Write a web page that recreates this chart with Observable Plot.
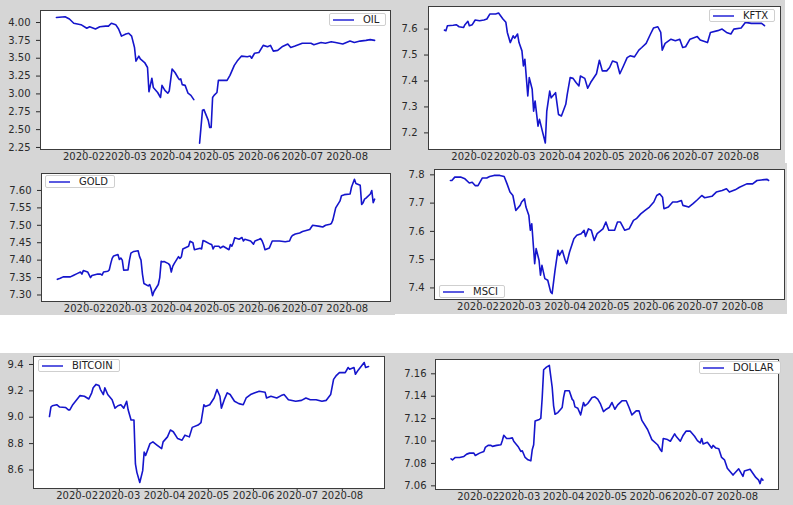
<!DOCTYPE html>
<html><head><meta charset="utf-8">
<script src="https://cdn.jsdelivr.net/npm/d3@7"></script>
<script src="https://cdn.jsdelivr.net/npm/@observablehq/plot@0.6"></script>
<style>
html,body{margin:0;padding:0;background:#fff;}
#root{position:relative;width:793px;height:505px;overflow:hidden;font-family:"DejaVu Sans",sans-serif;}
.panel{position:absolute;}
.panel svg{display:block;}
.leg{position:absolute;height:13px;box-sizing:border-box;background:#fff;border:1px solid #cfcfcf;border-radius:2px;display:flex;align-items:center;padding:0 6px 0 3px;font:10px "DejaVu Sans",sans-serif;color:#222;white-space:nowrap;}
.sw{display:inline-block;width:21px;height:2px;background:#5a5ae0;margin-right:9px;}
</style></head><body><div id="root"></div>
<script>
// ---------- data ----------
const seriesNames = ["OIL", "KFTX", "GOLD", "MSCI", "BITCOIN", "DOLLAR"];
const monthTicks = ["2020-02-01","2020-03-01","2020-04-01","2020-05-01","2020-06-01","2020-07-01","2020-08-01"];

const oil = [["2020-01-13",4.07],["2020-01-19",4.08],["2020-01-22",4.05],["2020-01-25",3.99],["2020-01-30",3.97],["2020-02-03",3.92],["2020-02-05",3.94],["2020-02-09",3.91],["2020-02-12",3.94],["2020-02-16",3.95],["2020-02-18",3.95],["2020-02-20",3.99],["2020-02-23",3.97],["2020-02-25",3.91],["2020-02-27",3.81],["2020-03-01",3.84],["2020-03-03",3.85],["2020-03-05",3.81],["2020-03-07",3.65],["2020-03-08",3.46],["2020-03-10",3.53],["2020-03-11",3.49],["2020-03-14",3.44],["2020-03-16",3.37],["2020-03-17",3.03],["2020-03-19",3.22],["2020-03-20",3.09],["2020-03-23",3.02],["2020-03-25",2.95],["2020-03-26",3.12],["2020-03-28",3.05],["2020-03-30",3.01],["2020-03-31",3.04],["2020-04-02",3.35],["2020-04-04",3.30],["2020-04-06",3.23],["2020-04-07",3.20],["2020-04-08",3.21],["2020-04-09",3.13],["2020-04-11",3.12],["2020-04-13",3.01],["2020-04-15",2.98],["2020-04-17",2.92],["2020-04-19",null],["2020-04-21",2.31],["2020-04-23",2.77],["2020-04-24",2.78],["2020-04-27",2.63],["2020-04-28",2.53],["2020-04-29",2.53],["2020-04-30",2.95],["2020-05-01",2.98],["2020-05-03",3.02],["2020-05-04",3.19],["2020-05-07",3.19],["2020-05-10",3.19],["2020-05-12",3.26],["2020-05-15",3.40],["2020-05-17",3.46],["2020-05-20",3.53],["2020-05-24",3.52],["2020-05-26",3.53],["2020-05-27",3.50],["2020-05-29",3.57],["2020-06-01",3.58],["2020-06-04",3.68],["2020-06-07",3.66],["2020-06-09",3.68],["2020-06-11",3.60],["2020-06-14",3.61],["2020-06-17",3.66],["2020-06-21",3.70],["2020-06-23",3.65],["2020-06-26",3.67],["2020-07-01",3.71],["2020-07-07",3.71],["2020-07-09",3.69],["2020-07-14",3.72],["2020-07-17",3.71],["2020-07-21",3.73],["2020-07-24",3.72],["2020-07-29",3.70],["2020-08-03",3.74],["2020-08-06",3.72],["2020-08-10",3.74],["2020-08-14",3.75],["2020-08-17",3.76],["2020-08-20",3.75]];

const kftx = [["2020-01-13",7.596],["2020-01-14",7.594],["2020-01-15",7.613],["2020-01-19",7.615],["2020-01-21",7.617],["2020-01-23",7.609],["2020-01-26",7.606],["2020-01-27",7.617],["2020-01-29",7.630],["2020-01-30",7.613],["2020-02-01",7.617],["2020-02-03",7.635],["2020-02-06",7.632],["2020-02-09",7.635],["2020-02-11",7.639],["2020-02-13",7.658],["2020-02-17",7.658],["2020-02-19",7.662],["2020-02-22",7.639],["2020-02-24",7.626],["2020-02-25",7.587],["2020-02-27",7.548],["2020-02-29",7.574],["2020-03-01",7.565],["2020-03-03",7.581],["2020-03-04",7.548],["2020-03-06",7.516],["2020-03-07",7.458],["2020-03-08",7.484],["2020-03-10",7.342],["2020-03-11",7.413],["2020-03-13",7.368],["2020-03-14",7.284],["2020-03-15",7.323],["2020-03-17",7.226],["2020-03-18",7.252],["2020-03-20",7.206],["2020-03-22",7.161],["2020-03-23",7.284],["2020-03-25",7.361],["2020-03-26",7.335],["2020-03-29",7.355],["2020-03-31",7.271],["2020-04-02",7.265],["2020-04-05",7.310],["2020-04-06",7.348],["2020-04-08",7.413],["2020-04-10",7.410],["2020-04-12",7.394],["2020-04-14",7.381],["2020-04-15",7.419],["2020-04-18",7.410],["2020-04-20",7.372],["2020-04-22",7.394],["2020-04-26",7.428],["2020-04-28",7.480],["2020-04-30",7.439],["2020-05-03",7.439],["2020-05-05",7.452],["2020-05-07",7.477],["2020-05-10",7.471],["2020-05-12",7.428],["2020-05-14",7.452],["2020-05-17",7.490],["2020-05-19",7.497],["2020-05-22",7.493],["2020-05-25",7.519],["2020-05-27",7.529],["2020-05-30",7.545],["2020-06-02",7.581],["2020-06-04",7.604],["2020-06-07",7.609],["2020-06-09",7.587],["2020-06-10",7.519],["2020-06-12",7.545],["2020-06-16",7.561],["2020-06-19",7.555],["2020-06-22",7.561],["2020-06-24",7.529],["2020-06-26",7.532],["2020-06-29",7.561],["2020-07-04",7.571],["2020-07-06",7.558],["2020-07-11",7.548],["2020-07-13",7.587],["2020-07-18",7.594],["2020-07-21",7.600],["2020-07-24",7.587],["2020-07-27",7.581],["2020-07-29",7.600],["2020-08-03",7.604],["2020-08-06",7.626],["2020-08-10",7.622],["2020-08-14",7.622],["2020-08-17",7.622],["2020-08-19",7.613]];

const gold = [["2020-01-13",7.345],["2020-01-15",7.348],["2020-01-17",7.352],["2020-01-22",7.352],["2020-01-24",7.356],["2020-01-27",7.362],["2020-01-29",7.366],["2020-01-30",7.360],["2020-01-31",7.370],["2020-02-03",7.366],["2020-02-05",7.350],["2020-02-06",7.356],["2020-02-10",7.360],["2020-02-12",7.360],["2020-02-13",7.357],["2020-02-14",7.366],["2020-02-17",7.368],["2020-02-18",7.372],["2020-02-19",7.390],["2020-02-20",7.405],["2020-02-21",7.412],["2020-02-24",7.416],["2020-02-25",7.402],["2020-02-26",7.406],["2020-02-27",7.400],["2020-02-28",7.371],["2020-03-02",7.372],["2020-03-03",7.400],["2020-03-04",7.420],["2020-03-06",7.425],["2020-03-09",7.427],["2020-03-10",7.410],["2020-03-11",7.400],["2020-03-12",7.360],["2020-03-13",7.333],["2020-03-16",7.326],["2020-03-17",7.330],["2020-03-18",7.318],["2020-03-19",7.298],["2020-03-20",7.310],["2020-03-23",7.330],["2020-03-24",7.350],["2020-03-25",7.397],["2020-03-26",7.395],["2020-03-27",7.396],["2020-03-30",7.390],["2020-03-31",7.385],["2020-04-01",7.366],["2020-04-02",7.382],["2020-04-03",7.390],["2020-04-06",7.410],["2020-04-07",7.405],["2020-04-08",7.410],["2020-04-09",7.432],["2020-04-13",7.440],["2020-04-14",7.454],["2020-04-16",7.450],["2020-04-17",7.430],["2020-04-21",7.434],["2020-04-22",7.432],["2020-04-23",7.456],["2020-04-24",7.455],["2020-04-28",7.446],["2020-04-29",7.445],["2020-04-30",7.432],["2020-05-01",7.440],["2020-05-04",7.440],["2020-05-05",7.435],["2020-05-07",7.440],["2020-05-11",7.430],["2020-05-12",7.445],["2020-05-13",7.440],["2020-05-14",7.450],["2020-05-15",7.464],["2020-05-18",7.460],["2020-05-20",7.465],["2020-05-21",7.455],["2020-05-22",7.460],["2020-05-26",7.455],["2020-05-28",7.446],["2020-05-29",7.455],["2020-06-01",7.460],["2020-06-02",7.462],["2020-06-03",7.455],["2020-06-04",7.444],["2020-06-05",7.430],["2020-06-08",7.435],["2020-06-10",7.455],["2020-06-15",7.455],["2020-06-19",7.453],["2020-06-22",7.455],["2020-06-23",7.465],["2020-06-24",7.471],["2020-06-26",7.475],["2020-06-29",7.478],["2020-07-01",7.482],["2020-07-06",7.488],["2020-07-08",7.500],["2020-07-13",7.497],["2020-07-15",7.495],["2020-07-17",7.500],["2020-07-20",7.503],["2020-07-21",7.505],["2020-07-22",7.515],["2020-07-24",7.550],["2020-07-27",7.570],["2020-07-28",7.585],["2020-07-30",7.588],["2020-08-03",7.590],["2020-08-04",7.610],["2020-08-06",7.632],["2020-08-07",7.620],["2020-08-10",7.615],["2020-08-11",7.560],["2020-08-12",7.565],["2020-08-13",7.575],["2020-08-14",7.578],["2020-08-17",7.590],["2020-08-18",7.600],["2020-08-19",7.565],["2020-08-20",7.575]];

const msci = [["2020-01-13",7.780],["2020-01-14",7.780],["2020-01-16",7.792],["2020-01-20",7.792],["2020-01-23",7.786],["2020-01-26",7.771],["2020-01-28",7.774],["2020-01-30",7.762],["2020-02-01",7.762],["2020-02-04",7.789],["2020-02-07",7.789],["2020-02-09",7.794],["2020-02-12",7.798],["2020-02-16",7.798],["2020-02-19",7.794],["2020-02-21",7.768],["2020-02-23",7.739],["2020-02-25",7.727],["2020-02-27",7.674],["2020-03-01",7.692],["2020-03-02",7.704],["2020-03-04",7.715],["2020-03-05",7.686],["2020-03-07",7.656],["2020-03-08",7.604],["2020-03-09",7.627],["2020-03-11",7.486],["2020-03-12",7.539],["2020-03-14",7.498],["2020-03-15",7.445],["2020-03-16",7.480],["2020-03-18",7.433],["2020-03-20",7.427],["2020-03-22",7.386],["2020-03-23",7.380],["2020-03-25",7.462],["2020-03-27",7.533],["2020-03-28",7.515],["2020-03-30",7.533],["2020-04-01",7.498],["2020-04-02",7.486],["2020-04-04",7.527],["2020-04-07",7.574],["2020-04-09",7.586],["2020-04-12",7.592],["2020-04-14",7.604],["2020-04-15",7.582],["2020-04-17",7.609],["2020-04-19",7.604],["2020-04-21",7.568],["2020-04-23",7.592],["2020-04-27",7.609],["2020-04-29",7.633],["2020-05-01",7.604],["2020-05-05",7.604],["2020-05-07",7.633],["2020-05-09",7.633],["2020-05-12",7.604],["2020-05-15",7.609],["2020-05-18",7.639],["2020-05-20",7.645],["2020-05-23",7.662],["2020-05-26",7.674],["2020-05-29",7.686],["2020-06-01",7.704],["2020-06-03",7.727],["2020-06-05",7.733],["2020-06-07",7.721],["2020-06-08",7.680],["2020-06-11",7.686],["2020-06-14",7.704],["2020-06-17",7.704],["2020-06-20",7.709],["2020-06-21",7.692],["2020-06-25",7.686],["2020-06-28",7.698],["2020-07-01",7.712],["2020-07-04",7.727],["2020-07-06",7.719],["2020-07-11",7.724],["2020-07-14",7.739],["2020-07-18",7.745],["2020-07-21",7.751],["2020-07-23",7.739],["2020-07-27",7.747],["2020-07-30",7.756],["2020-08-04",7.768],["2020-08-08",7.768],["2020-08-11",7.780],["2020-08-14",7.782],["2020-08-18",7.784],["2020-08-19",7.780]];

const bitcoin = [["2020-01-13",9.005],["2020-01-14",9.077],["2020-01-15",9.087],["2020-01-18",9.095],["2020-01-20",9.077],["2020-01-24",9.074],["2020-01-26",9.056],["2020-01-27",9.056],["2020-01-29",9.095],["2020-02-03",9.164],["2020-02-06",9.159],["2020-02-09",9.138],["2020-02-11",9.185],["2020-02-12",9.223],["2020-02-14",9.249],["2020-02-16",9.241],["2020-02-17",9.210],["2020-02-19",9.172],["2020-02-20",9.223],["2020-02-22",9.172],["2020-02-25",9.133],["2020-02-27",9.069],["2020-02-29",9.087],["2020-03-02",9.095],["2020-03-04",9.069],["2020-03-06",9.121],["2020-03-07",9.056],["2020-03-09",8.979],["2020-03-11",8.979],["2020-03-12",8.646],["2020-03-13",8.582],["2020-03-15",8.505],["2020-03-17",8.595],["2020-03-18",8.736],["2020-03-19",8.710],["2020-03-22",8.800],["2020-03-24",8.813],["2020-03-27",8.787],["2020-03-30",8.762],["2020-03-31",8.813],["2020-04-03",8.851],["2020-04-05",8.903],["2020-04-07",8.890],["2020-04-10",8.838],["2020-04-13",8.826],["2020-04-15",8.864],["2020-04-18",8.851],["2020-04-20",8.923],["2020-04-24",8.941],["2020-04-26",8.959],["2020-04-28",9.095],["2020-04-29",9.082],["2020-05-02",9.095],["2020-05-05",9.146],["2020-05-07",9.210],["2020-05-09",9.159],["2020-05-10",9.069],["2020-05-12",9.133],["2020-05-14",9.185],["2020-05-16",9.172],["2020-05-19",9.121],["2020-05-22",9.103],["2020-05-25",9.095],["2020-05-27",9.146],["2020-05-30",9.172],["2020-06-02",9.185],["2020-06-05",9.197],["2020-06-09",9.190],["2020-06-10",9.146],["2020-06-13",9.159],["2020-06-17",9.146],["2020-06-20",9.164],["2020-06-22",9.172],["2020-06-25",9.133],["2020-06-30",9.121],["2020-07-04",9.128],["2020-07-07",9.146],["2020-07-10",9.133],["2020-07-14",9.133],["2020-07-18",9.121],["2020-07-21",9.128],["2020-07-24",9.172],["2020-07-26",9.287],["2020-07-28",9.318],["2020-07-30",9.338],["2020-08-03",9.338],["2020-08-05",9.377],["2020-08-06",9.364],["2020-08-09",9.377],["2020-08-10",9.326],["2020-08-12",9.359],["2020-08-16",9.415],["2020-08-17",9.377],["2020-08-19",9.385]];

const dollar = [["2020-01-13",7.0841],["2020-01-14",7.0832],["2020-01-16",7.0853],["2020-01-19",7.0853],["2020-01-22",7.0862],["2020-01-24",7.0883],["2020-01-26",7.0892],["2020-01-29",7.0892],["2020-01-30",7.0871],["2020-02-02",7.0892],["2020-02-05",7.0907],["2020-02-06",7.0943],["2020-02-08",7.0961],["2020-02-10",7.0961],["2020-02-11",7.0952],["2020-02-14",7.0961],["2020-02-17",7.0967],["2020-02-18",7.1004],["2020-02-19",7.1052],["2020-02-21",7.1022],["2020-02-23",7.1022],["2020-02-25",7.1028],["2020-02-26",7.0998],["2020-02-29",7.0952],["2020-03-02",7.0907],["2020-03-03",7.0913],["2020-03-05",7.0853],["2020-03-07",7.0832],["2020-03-09",7.0823],["2020-03-10",7.0922],["2020-03-11",7.0967],["2020-03-12",7.1178],["2020-03-15",7.1193],["2020-03-16",7.1202],["2020-03-17",7.1389],["2020-03-18",7.1636],["2020-03-20",7.1660],["2020-03-22",7.1675],["2020-03-24",7.1480],["2020-03-25",7.1314],["2020-03-26",7.1239],["2020-03-28",7.1254],["2020-03-30",7.1284],["2020-03-31",7.1299],["2020-04-01",7.1389],["2020-04-02",7.1449],["2020-04-05",7.1449],["2020-04-07",7.1374],["2020-04-08",7.1359],["2020-04-09",7.1305],["2020-04-11",7.1293],["2020-04-13",7.1233],["2020-04-15",7.1344],["2020-04-16",7.1314],["2020-04-18",7.1335],["2020-04-21",7.1389],["2020-04-23",7.1395],["2020-04-25",7.1374],["2020-04-27",7.1329],["2020-04-29",7.1263],["2020-05-01",7.1284],["2020-05-03",7.1299],["2020-05-05",7.1344],["2020-05-07",7.1284],["2020-05-09",7.1323],["2020-05-12",7.1359],["2020-05-15",7.1359],["2020-05-17",7.1299],["2020-05-19",7.1233],["2020-05-22",7.1269],["2020-05-24",7.1269],["2020-05-26",7.1184],["2020-05-30",7.1103],["2020-06-02",7.1013],["2020-06-06",7.0967],["2020-06-08",7.0922],["2020-06-09",7.0907],["2020-06-10",7.1022],["2020-06-13",7.1013],["2020-06-15",7.0998],["2020-06-18",7.1064],["2020-06-19",7.1043],["2020-06-22",7.0998],["2020-06-24",7.1052],["2020-06-26",7.1088],["2020-06-29",7.1088],["2020-07-02",7.1043],["2020-07-04",7.1004],["2020-07-06",7.0983],["2020-07-07",7.1022],["2020-07-08",7.0974],["2020-07-11",7.0989],["2020-07-14",7.0937],["2020-07-15",7.0961],["2020-07-17",7.0937],["2020-07-19",7.0931],["2020-07-21",7.0853],["2020-07-23",7.0832],["2020-07-25",7.0757],["2020-07-29",7.0696],["2020-08-02",7.0752],["2020-08-05",7.0684],["2020-08-06",7.0733],["2020-08-10",7.0748],["2020-08-14",7.0675],["2020-08-16",7.0651],["2020-08-17",7.0620],["2020-08-18",7.0666],["2020-08-19",7.0651]];

const oilTicks = [2.25, 2.50, 2.75, 3.00, 3.25, 3.50, 3.75, 4.00];
const kftxTicks = [7.2, 7.3, 7.4, 7.5, 7.6];
const goldTicks = [7.30, 7.35, 7.40, 7.45, 7.50, 7.55, 7.60];
const msciTicks = [7.4, 7.5, 7.6, 7.7, 7.8];
const bitcoinTicks = [8.6, 8.8, 9.0, 9.2, 9.4];
const dollarTicks = [7.06, 7.08, 7.10, 7.12, 7.14, 7.16];

// ---------- layout / style ----------
const GREY = "#d6d6d6";
const LINE = "#1515cc";
const panels = [
  {name: seriesNames[0], data: oil,     ticks: oilTicks,     fmt: ".2f", box: [0, 0, 395, 165],   m: [10, 5, 16, 40], pad: 6, leg: [329, 13]},
  {name: seriesNames[1], data: kftx,    ticks: kftxTicks,    fmt: ".1f", box: [395, 0, 390, 165], m: [6, 5, 16, 33],  pad: 7, leg: [709, 9]},
  {name: seriesNames[2], data: gold,    ticks: goldTicks,    fmt: ".2f", box: [0, 165, 395, 150], m: [8, 5, 14, 41],  pad: 6, leg: [45, 175]},
  {name: seriesNames[3], data: msci,    ticks: msciTicks,    fmt: ".1f", box: [395, 163, 392, 151], m: [6, 3, 15, 39], pad: 6, leg: [439, 285]},
  {name: seriesNames[4], data: bitcoin, ticks: bitcoinTicks, fmt: ".1f", box: [0, 353, 395, 152], m: [3, 11, 17, 33], pad: 6, leg: [38, 359]},
  {name: seriesNames[5], data: dollar,  ticks: dollarTicks,  fmt: ".2f", box: [395, 353, 398, 152], m: [6, 15, 16, 40], pad: 5, leg: [699, 361]}
];

const root = document.getElementById("root");
const tickDates = monthTicks.map(d => new Date(d));
const fmtMonth = d3.utcFormat("%Y-%m");

for (const p of panels) {
  const rows = p.data.map(([d, v]) => ({date: new Date(d), value: v}));
  const dates = rows.map(r => r.date);
  const vals = rows.map(r => r.value).filter(v => v != null);
  const [x0, x1] = d3.extent(dates);
  const xp = (x1 - x0) * 0.05;
  const [y0, y1] = d3.extent(vals);
  const yp = (y1 - y0) * 0.05;
  const [left, top, w, h] = p.box;
  const chart = Plot.plot({
    width: w, height: h,
    marginTop: p.m[0], marginRight: p.m[1], marginBottom: p.m[2], marginLeft: p.m[3],
    style: {background: GREY, fontFamily: "'DejaVu Sans', sans-serif", fontSize: "10px", color: "#2a2a2a", overflow: "visible"},
    x: {type: "utc", domain: [new Date(+x0 - xp), new Date(+x1 + xp)]},
    y: {domain: [y0 - yp, y1 + yp]},
    marks: [
      Plot.frame({fill: "white", stroke: null}),
      Plot.axisX({ticks: tickDates, tickFormat: fmtMonth, tickSize: 3, tickPadding: 0, label: null}),
      Plot.axisY({ticks: p.ticks, tickFormat: d3.format(p.fmt), tickSize: 4, tickPadding: p.pad, label: null}),
      Plot.line(rows, {x: "date", y: "value", stroke: LINE, strokeWidth: 1.6}),
      Plot.frame({stroke: "#3c3c3c", strokeWidth: 1})
    ]
  });
  const div = document.createElement("div");
  div.className = "panel";
  div.style.left = left + "px";
  div.style.top = top + "px";
  div.appendChild(chart);
  root.appendChild(div);

  const leg = document.createElement("div");
  leg.className = "leg";
  leg.style.left = p.leg[0] + "px";
  leg.style.top = p.leg[1] + "px";
  const sw = document.createElement("span");
  sw.className = "sw";
  leg.appendChild(sw);
  leg.appendChild(document.createTextNode(p.name));
  root.appendChild(leg);
}
</script></body></html>
